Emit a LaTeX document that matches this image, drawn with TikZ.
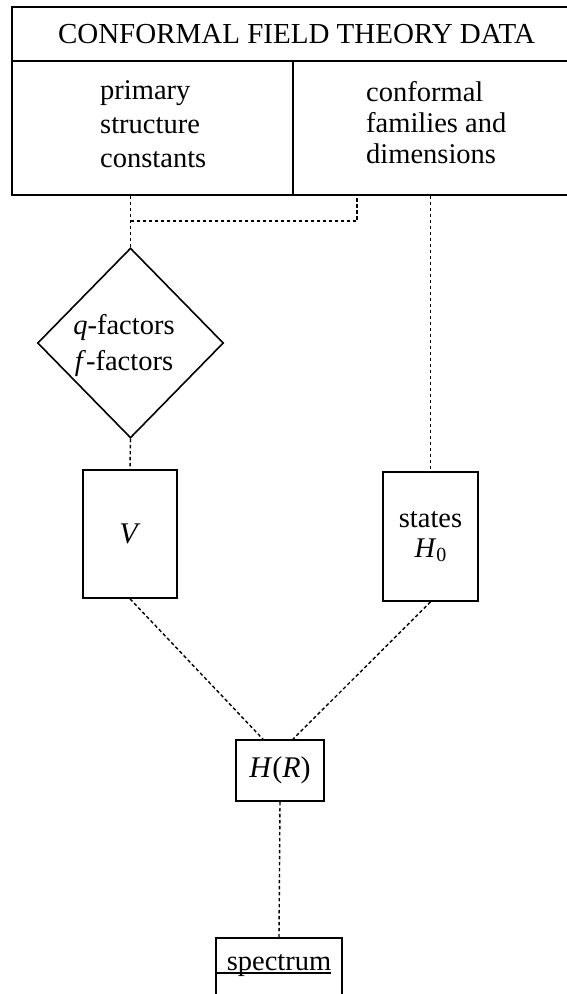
\documentclass[tikz,border=0pt]{standalone}
\usepackage{fontspec}
\setmainfont{Liberation Serif}
\usetikzlibrary{shapes.geometric,calc}

\newcommand{\cftsize}{\fontsize{28.5}{33}\selectfont}
\tikzset{
  box/.style={draw,line width=1.6pt,inner sep=0pt},
  lbl/.style={font=\cftsize,inner sep=0pt},
  link/.style={line width=1.4pt,dash pattern=on 3.5pt off 2.5pt},
}

\begin{document}
\begin{tikzpicture}[x=1pt,y=-1pt]
  \useasboundingbox (0,0) rectangle (567,994);
  \clip (0,0) rectangle (567,994);
  % top table: title row and two cells
  \node[box,anchor=north west,minimum width=600pt,minimum height=54pt] (hdr) at (11,6) {};
  \node[box,anchor=north west,minimum width=281pt,minimum height=134pt] (prim) at (11,60) {};
  \node[box,anchor=north west,minimum width=320pt,minimum height=134pt] (conf) at (292,60) {};
  \node[lbl,anchor=base,font=\fontsize{29}{33}\selectfont] (title) at (296.5,43) {CONFORMAL FIELD THEORY DATA};
  \foreach \t [count=\k] in {primary,structure,constants}
    \node[lbl,anchor=base west] (prim\k) at (100,{99+(\k-1)*34}) {\t};
  \foreach \t [count=\k] in {conformal,families and,dimensions}
    \node[lbl,anchor=base west] (conf\k) at (366,{101+(\k-1)*31}) {\t};
  % factors
  \node[box,diamond,minimum width=186pt,minimum height=190pt] (qf) at (130.5,343) {};
  \node[lbl,align=center,font=\fontsize{28.5}{36}\selectfont] (qftxt) at (124,345)
    {\textit{q}-factors\\\textit{f}-factors};
  % potential and unperturbed part
  \node[box,minimum width=94pt,minimum height=128pt,font=\fontsize{30}{33}\selectfont] (v) at (130,534) {\textit{V}};
  \node[box,minimum width=95pt,minimum height=129pt,align=center,font=\fontsize{28.5}{30}\selectfont] (states) at (430.5,536.5)
    {states\\\textit{H}\raisebox{-0.25ex}{\fontsize{20}{20}\selectfont 0}};
  % hamiltonian and spectrum
  \node[box,minimum width=88pt,minimum height=61pt,font=\fontsize{30}{33}\selectfont] (hr) at (280,770.5) {\textit{H}(\textit{R})};
  \node[box,anchor=north,minimum width=126pt,minimum height=120pt] (spec) at (279,937) {};
  \node[lbl,anchor=base] (spectxt) at (279,970) {spectrum};
  \draw[line width=1.5pt] ([yshift=-3pt]spec.west |- spectxt.base) -- ([yshift=-3pt]spectxt.base east);
  % dotted connections
  \coordinate (brk) at (357,221);
  \draw[link] (qf.north |- prim.south) -- (qf.north);
  \draw[link] (qf.north |- brk) -- (brk) -- (brk |- conf.south);
  \draw[link] (states.north |- conf.south) -- (states.north);
  \draw[link] (qf.south) -- (v.north);
  \draw[link] (v.south) -- ([xshift=-17pt]hr.north);
  \draw[link] (states.south) -- ([xshift=13pt]hr.north);
  \draw[link] (hr.south) -- (spec.north);
\end{tikzpicture}
\end{document}
